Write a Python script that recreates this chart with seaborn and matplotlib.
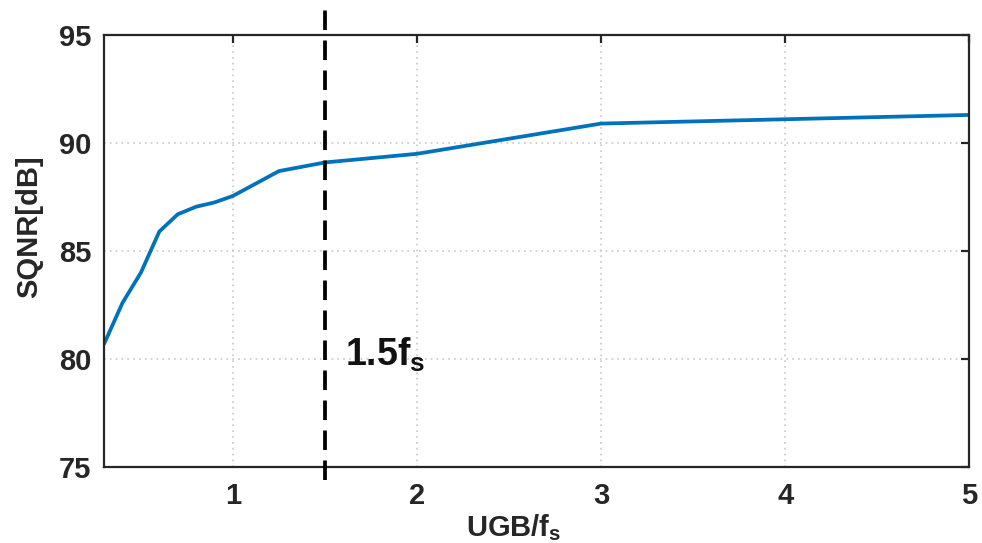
import numpy as np
import seaborn as sns
import matplotlib.pyplot as plt

# data
ugb = [0.3, 0.4, 0.5, 0.6, 0.7, 0.8, 0.9, 1.0, 1.25, 1.5, 2, 3, 4, 5]
sqnr = [80.7, 82.6, 84.0, 85.9, 86.7, 87.05, 87.25, 87.55, 88.7, 89.1, 89.5, 90.9, 91.1, 91.3]
x_ticks = [1, 2, 3, 4, 5]
y_ticks = [75, 80, 85, 90, 95]
marker_x = 1.5

sns.set_style("white")
plt.rcParams['font.family'] = ['Liberation Sans', 'DejaVu Sans']
plt.rcParams['font.weight'] = 'bold'
plt.rcParams['mathtext.fontset'] = 'custom'
plt.rcParams['mathtext.rm'] = 'Liberation Sans:bold'
plt.rcParams['mathtext.bf'] = 'Liberation Sans:bold'
plt.rcParams['mathtext.it'] = 'Liberation Sans:bold'

fig = plt.figure(figsize=(9.82, 5.43), dpi=100)
ax = fig.add_axes([0.106, 0.14, 0.881, 0.7955])

sns.lineplot(x=ugb, y=sqnr, ax=ax, color="#0072BD", linewidth=2.7)

# 1.5 fs marker, runs past the frame top and bottom
ax.axvline(marker_x, ymin=-0.03, ymax=1.07, color="black", linewidth=2.7,
           linestyle=(0, (5.2, 2.8)), clip_on=False, zorder=3)
ax.text(1.61, 79.7, r"1.5f$_\mathrm{s}$", fontsize=27, fontweight='bold',
        va='baseline', ha='left', color="#111111")

ax.set_xlim(0.3, 5)
ax.set_ylim(75, 95)
ax.set_xticks(x_ticks)
ax.set_yticks(y_ticks)
ax.grid(True, linestyle=(0, (1, 2.5)), color="#c8c8c8", linewidth=1.2)

for s in ax.spines.values():
    s.set_color("#262626")
    s.set_linewidth(1.6)
ax.tick_params(direction='in', length=6, width=1.6, top=True, right=True,
               labelsize=21, colors="#262626", labelcolor="#262626")
ax.tick_params(axis='y', pad=9)
ax.tick_params(axis='x', pad=11)
for lab in ax.get_xticklabels() + ax.get_yticklabels():
    lab.set_fontweight('bold')

ax.set_xlabel(r"UGB/f$_\mathrm{s}$", fontsize=21, fontweight='bold')
ax.set_ylabel("SQNR[dB]", fontsize=21, fontweight='bold')
ax.xaxis.set_label_coords(0.473, -0.105)
ax.yaxis.set_label_coords(-0.07, 0.556)

fig.savefig("out.png", dpi=100)
